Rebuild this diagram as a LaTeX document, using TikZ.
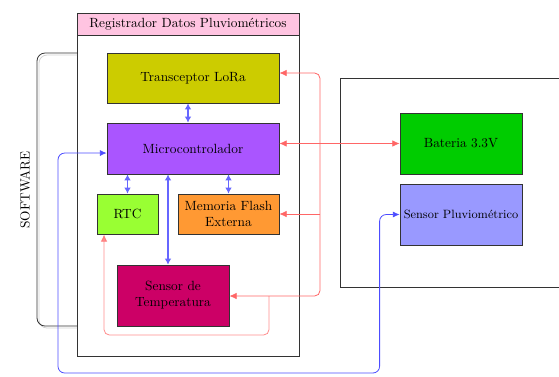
\documentclass[tikz,border=0pt]{standalone}
\usepackage{tikz}
\usetikzlibrary{arrows.meta}
\usepackage{xcolor}
\definecolor{rosa}{HTML}{FFC4E1}
\definecolor{lora}{HTML}{CCCC00}
\definecolor{micro}{HTML}{AA55FF}
\definecolor{reloj}{HTML}{99FF33}
\definecolor{flash}{HTML}{FF9933}
\definecolor{temp}{HTML}{CC0066}
\definecolor{bateria}{HTML}{00CC00}
\definecolor{pluvio}{HTML}{9999FF}
\tikzstyle{bloque} = [draw=black!80, semithick, rectangle, align=center, inner sep=2pt]
\tikzstyle{contenedor} = [draw=black!80, semithick, rectangle]
\tikzstyle{titulo} = [draw=black!80, semithick, fill=rosa, rectangle]
\tikzstyle{datos} = [<->, >={Latex[length=4.5pt,width=5pt]}, blue!60, thick]
\tikzstyle{energia} = [>={Latex[length=5.5pt,width=5pt]}, red!60, semithick, rounded corners=4pt]
\tikzstyle{senal} = [<->, >={Latex[length=5pt,width=4.5pt]}, blue!70, semithick, rounded corners=5pt]

\begin{document}
\begin{tikzpicture}[x=0.75pt, y=-0.75pt]
\useasboundingbox (0,0) rectangle (559,376);
\node [contenedor, minimum width=166.5pt, minimum height=257.25pt] (registrador) at (188,184.5) {};
\node [titulo, anchor=north, minimum width=166.5pt, minimum height=16.5pt] (cabecera) at (registrador.north) {Registrador Datos Pluviométricos};
\node [bloque, fill=lora, minimum width=129pt, minimum height=37.5pt] (transceptor) at (193,78) {Transceptor LoRa};
\node [bloque, fill=micro, minimum width=129pt, minimum height=38.25pt] (micro) at (193,148.5) {Microcontrolador};
\node [bloque, fill=reloj, minimum width=45.75pt, minimum height=30pt] (rtc) at (127.5,214) {RTC};
\node [bloque, fill=flash, minimum width=75.75pt, minimum height=30pt] (memoria) at (228.5,214) {Memoria Flash\\Externa};
\node [bloque, fill=temp, minimum width=84pt, minimum height=45.75pt] (temperatura) at (173,295.5) {Sensor de\\Temperatura};

\node [contenedor, minimum width=172.5pt, minimum height=156.75pt] (exterior) at (455,182.5) {};
\node [bloque, fill=bateria, minimum width=91.5pt, minimum height=45.75pt] (bateria) at (461,143.5) {Bateria 3.3V};
\node [bloque, fill=pluvio, minimum width=91.5pt, minimum height=45.75pt, font=\small] (pluvio) at (461,214.5) {Sensor Pluviométrico};

\draw [gray!35, semithick, rounded corners=6pt] (77,55) -| (39,328) -- (77,328);
\draw [black!80, semithick, rounded corners=6pt] (77,53) -| (37,326) -- (77,326);
\node [rotate=90] (software) at (25,190) {SOFTWARE};

\coordinate (tempin) at ([xshift=-3.75pt]temperatura.north);
\draw [datos] ([xshift=-3.75pt]transceptor.south) -- ([xshift=-3.75pt]micro.north);
\draw [datos] (micro.south -| rtc.north) -- (rtc.north);
\draw [datos] (micro.south -| memoria.north) -- (memoria.north);
\draw [datos] (micro.south -| tempin) -- (tempin);

\coordinate (bus) at (320,296);
\coordinate (retorno) at (269,335);
\coordinate (rtcin) at ([xshift=-17.6pt]rtc.south);
\draw [energia, <->] ([yshift=3.75pt]transceptor.east) -| (bus) -- (bus -| temperatura.east);
\draw [energia, ->] (memoria.east -| bus) -- (memoria.east);
\draw [energia, <->] (micro.east |- bateria.west) -- (bateria.west);
\draw [energia, ->, opacity=0.75] (retorno |- bus) -- (retorno) -| (rtcin);

\coordinate (microin) at ([yshift=-3.4pt]micro.west);
\coordinate (esquina) at (58,373);
\coordinate (pluvioin) at ([xshift=-15pt]pluvio.west);
\draw [senal] (microin) -| (esquina) -| (pluvioin) -- (pluvio.west);
\end{tikzpicture}
\end{document}
